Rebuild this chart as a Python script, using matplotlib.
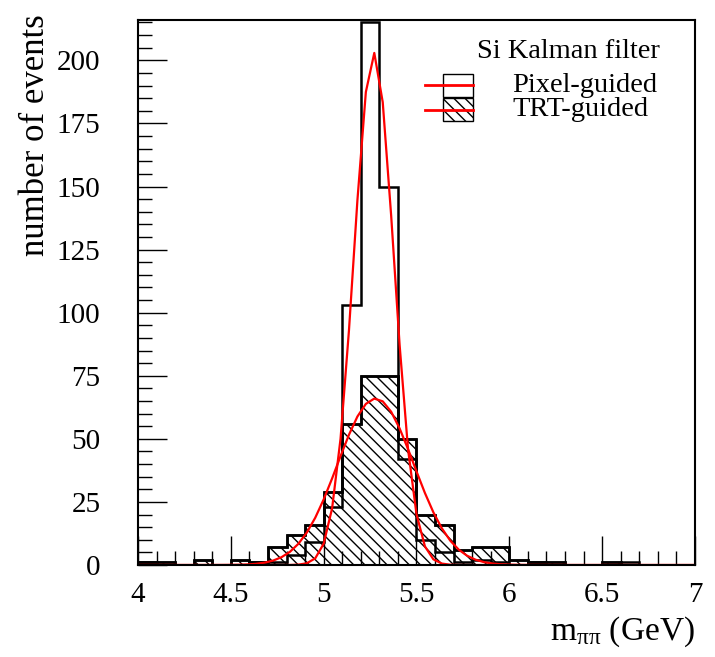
import numpy as np
import matplotlib
matplotlib.use("Agg")
import matplotlib.pyplot as plt
from matplotlib.patches import Rectangle
from matplotlib.lines import Line2D

plt.rcParams["font.family"] = ["Liberation Serif", "DejaVu Serif"]
plt.rcParams["mathtext.fontset"] = "custom"
plt.rcParams["mathtext.rm"] = "Liberation Serif"
plt.rcParams["mathtext.it"] = "Liberation Serif:italic"
plt.rcParams["hatch.linewidth"] = 1.0

# bin edges of the m_pipi histogram (GeV), 0.1 GeV bins
edges = np.round(np.arange(4.0, 7.0001, 0.1), 1)

# counts per bin, 4.0 ... 6.9
pixel_counts = [1, 0, 0, 0, 0, 0, 1, 1, 4, 9,
                23, 103, 215, 150, 42, 10, 5, 1, 2, 1,
                0, 1, 0, 0, 0, 0, 1, 0, 0, 0]
trt_counts = [1, 1, 0, 2, 0, 2, 1, 7, 12, 16,
              29, 56, 75, 75, 50, 20, 16, 6, 7, 7,
              2, 1, 1, 0, 0, 1, 0, 0, 0, 0]

# gaussian fit parameters (amplitude, mean, sigma)
pixel_fit = (203.0, 5.27, 0.107)
trt_fit = (66.0, 5.28, 0.205)

x_ticks = [4, 4.5, 5, 5.5, 6, 6.5, 7]
y_ticks = [0, 25, 50, 75, 100, 125, 150, 175, 200]


def gauss(x, a, mu, s):
    return a * np.exp(-0.5 * ((x - mu) / s) ** 2)


fig = plt.figure(figsize=(7.15, 6.57), dpi=100)
ax = fig.add_axes([0.193, 0.140, 0.779, 0.8296])

ax.stairs(trt_counts, edges, fill=True, facecolor="none", edgecolor="black",
          hatch="\\\\\\", linewidth=1.8)
ax.stairs(trt_counts, edges, color="black", linewidth=1.8)
ax.stairs(pixel_counts, edges, color="black", linewidth=1.8)

xf = np.linspace(4.0, 7.0, 67)
ax.plot(xf, gauss(xf, *pixel_fit), color="red", linewidth=1.6)
ax.plot(xf, gauss(xf, *trt_fit), color="red", linewidth=1.6)

ax.set_xlim(4.0, 7.0)
ax.set_ylim(0, 216)
ax.set_xticks(x_ticks)
ax.set_xticklabels([f"{t:g}" for t in x_ticks])
ax.set_yticks(y_ticks)
ax.set_xticks(np.arange(4.0, 7.0, 0.1), minor=True)
ax.set_yticks(np.arange(0, 216, 5), minor=True)
ax.tick_params(which="major", direction="in", length=21, width=1,
               labelsize=21, top=False, right=False)
ax.tick_params(which="minor", direction="in", length=10, width=1,
               top=False, right=False)
ax.xaxis.set_tick_params(which="major", pad=12)
ax.yaxis.set_tick_params(which="major", pad=27)
for sp in ax.spines.values():
    sp.set_linewidth(1.5)

# legend, ROOT style
tr = ax.transAxes
ax.text(0.937, 0.942, "Si Kalman filter", transform=tr, fontsize=20.5,
        ha="right", va="center")
for ypos, hatch, label in [(0.880, None, "Pixel-guided"),
                           (0.835, "\\\\\\", "TRT-guided")]:
    ax.add_patch(Rectangle((0.548, ypos - 0.021), 0.054, 0.042, transform=tr,
                           facecolor="white", edgecolor="black", linewidth=1,
                           hatch=hatch))
    ax.add_line(Line2D([0.515, 0.602], [ypos, ypos], transform=tr,
                       color="red", linewidth=2))
    ax.text(0.672, ypos, label, transform=tr, fontsize=20.5,
            ha="left", va="center")

fig.text(0.972, 0.038, r"m$_{\mathrm{\pi\pi}}$ (GeV)", fontsize=24,
         ha="right", va="center")
fig.text(0.050, 0.978, "number of events", fontsize=25, rotation=90,
         ha="center", va="top")

fig.savefig("out.png", dpi=100)
